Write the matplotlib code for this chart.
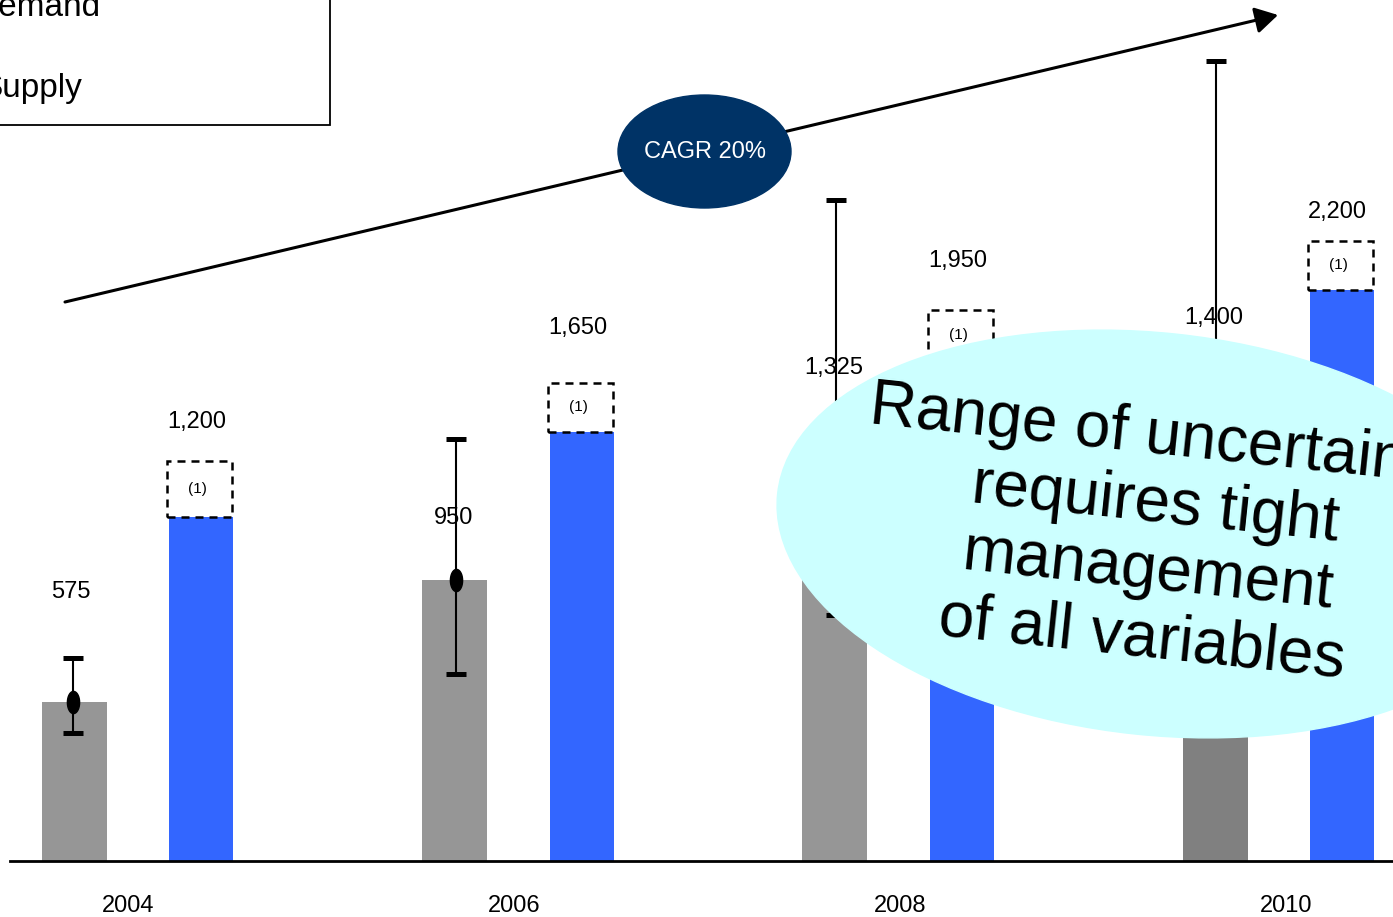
import matplotlib
matplotlib.use('Agg')
import matplotlib.pyplot as plt
from matplotlib.patches import Rectangle, Ellipse
from matplotlib.path import Path
import numpy as np

plt.rcParams['font.family'] = ['Liberation Sans', 'DejaVu Sans']

########################################
# data (heights, in picture units above the baseline)
years = ['2004', '2006', '2008', '2010']
demand_labels = ['575', '950', '1,325', '1,400']
supply_labels = ['1,200', '1,650', '1,950', '2,200']

demand = [159, 281, 384, 406]          # grey bars / mid point
demand_high = [203, 422, 661, 800]     # upper end of range
demand_low = [128, 187, 246, 161]      # lower end of range
supply = [344, 429, 502, 571]          # blue bars
supply_extra = [56, 49, 49, 49]        # dashed part "(1)"

########################################
# layout
W, H = 1393, 917
base = 861                        # baseline, pixels from top
gray_x = [74.5, 454.5, 834.5, 1215.5]
blue_x = [200.5, 581.5, 961.5, 1341.5]
err_x = [73, 456, 836, 1216]
year_x = [128, 514, 900, 1286]
demand_lab_y = [269, 343, 493, 543]
supply_lab_y = [439, 533, 600, 649]
gray_cols = ['#969696', '#969696', '#969696', '#808080']
blue_col = '#3366ff'

fig = plt.figure(figsize=(W / 100, H / 100), dpi=100)
ax = fig.add_axes([0, 0, 1, 1])
ax.set_xlim(0, W)
ax.set_ylim(base - H, base)
ax.axis('off')

# bars
ax.bar(gray_x, demand, width=65, color=gray_cols, zorder=1)
ax.bar(blue_x, supply, width=64, color=blue_col, zorder=1)

# dashed "(1)" boxes on top of supply
for x, s, e in zip(blue_x, supply, supply_extra):
    ax.add_patch(Rectangle((x - 34, s), 65, e, fill=False, edgecolor='black',
                           lw=1.8, linestyle=(0, (3.2, 2.4)), zorder=2))
    ax.text(x - 3, s + e / 2, '(1)', ha='center', va='center', fontsize=11, zorder=2)

# value labels
for x, y, t in zip(err_x, demand_lab_y, demand_labels):
    ax.text(x - 2, y, t, ha='center', va='center', fontsize=17, zorder=2)
for x, y, t in zip(blue_x, supply_lab_y, supply_labels):
    ax.text(x - 4, y, t, ha='center', va='center', fontsize=17, zorder=2)

# demand range
d = np.array(demand)
yerr = [d - np.array(demand_low), np.array(demand_high) - d]
ax.errorbar(err_x, demand, yerr=yerr, fmt='none', ecolor='black',
            elinewidth=1.5, capsize=7.5, capthick=3.6, zorder=3)
t = np.linspace(0, 2 * np.pi, 60)
dot = Path(np.column_stack([0.55 * np.cos(t), np.sin(t)]))
ax.plot(err_x, demand, linestyle='none', marker=dot, markersize=16,
        color='black', zorder=3)

# baseline
ax.plot([10, W], [0, 0], color='black', lw=2, zorder=4)

# years
for x, y in zip(year_x, years):
    ax.text(x, base - 912, y, ha='center', va='baseline', fontsize=17)

# growth arrow + CAGR bubble
ax.annotate('', xy=(1278, base - 15), xytext=(65, base - 302),
            arrowprops=dict(arrowstyle='-|>,head_length=0.55,head_width=0.32',
                            lw=2.2, color='black', mutation_scale=25,
                            shrinkA=0, shrinkB=0), zorder=4)
ax.add_patch(Ellipse((704.5, base - 151.5), 173, 113, color='#003366', zorder=5))
ax.text(704.5, base - 152, 'CAGR 20%', color='white', ha='center', va='center',
        fontsize=17, zorder=6)

# legend box (cut off at the top left)
ax.add_patch(Rectangle((-20, base - 125), 350, 200, fill=False,
                       edgecolor='black', lw=1.3, zorder=4, clip_on=False))
ax.text(-26, base - 16, 'Demand', fontsize=24, va='baseline', zorder=4)
ax.text(-20, base - 97, 'Supply', fontsize=24, va='baseline', zorder=4)

# uncertainty bubble
ax.add_patch(Ellipse((1155, base - 534), 759, 402, angle=-6.1,
                     color='#ccffff', zorder=7))
ax.text(1152, base - 538,
        'Range of uncertainty\nrequires tight\nmanagement\nof all variables',
        ha='center', va='center', multialignment='center', rotation=-6,
        rotation_mode='anchor', fontsize=46, linespacing=1.17, zorder=8)

fig.savefig('out.png', dpi=100)
